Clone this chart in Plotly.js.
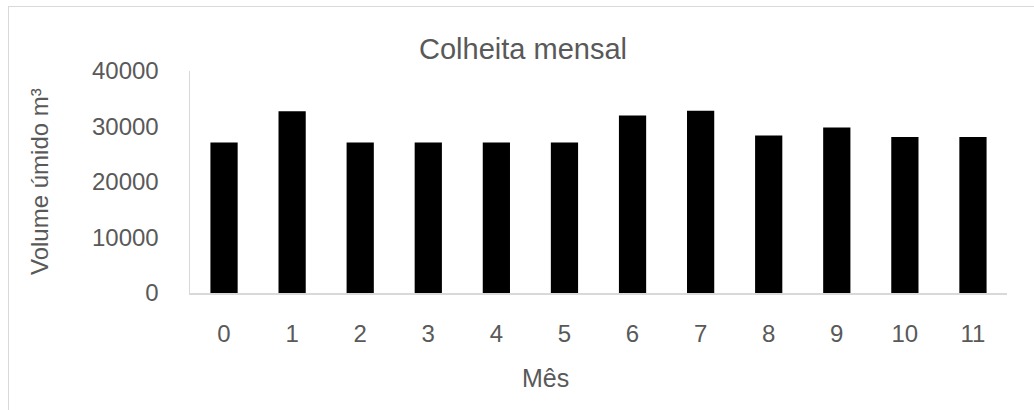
<!DOCTYPE html>
<html>
<head>
<meta charset="utf-8">
<script src="https://cdn.plot.ly/plotly-3.0.1.min.js"></script>
<style>
  html, body { margin: 0; padding: 0; background: #fff; overflow: hidden; }
  #frame { position: absolute; left: 8px; top: 6px; width: 1200px; height: 600px; border: 1px solid #d9d9d9; }
  #chart { position: absolute; left: 0; top: 0; width: 1034px; height: 410px; }
</style>
</head>
<body>
<div id="frame"></div>
<div id="chart"></div>
<script>
const months = [0, 1, 2, 3, 4, 5, 6, 7, 8, 9, 10, 11];
const volume = [27100, 32750, 27100, 27100, 27100, 27100, 32000, 32850, 28400, 29800, 28100, 28100];
const yTicks = [0, 10000, 20000, 30000, 40000];

const FONT = '"Liberation Sans", Arial, sans-serif';
const GRAY = '#595959';

const data = [{
  type: 'bar',
  x: months,
  y: volume,
  marker: { color: '#000000' },
  width: 0.4,
  hoverinfo: 'x+y'
}];

const layout = {
  width: 1034,
  height: 410,
  margin: { l: 190, r: 27, t: 71, b: 117, pad: 0 },
  paper_bgcolor: 'rgba(0,0,0,0)',
  plot_bgcolor: 'rgba(0,0,0,0)',
  showlegend: false,
  font: { family: FONT, color: GRAY },
  title: {
    text: 'Colheita mensal',
    font: { family: FONT, size: 29, color: GRAY },
    xref: 'container', x: 523 / 1034, xanchor: 'center',
    yref: 'container', y: 1 - 49 / 410, yanchor: 'middle'
  },
  xaxis: {
    range: [-0.5, 11.5],
    tickvals: months,
    ticktext: months.map(String),
    showgrid: false,
    zeroline: false,
    showline: true,
    linecolor: '#d9d9d9',
    linewidth: 1.5,
    ticks: '',
    ticklabelstandoff: 19,
    tickfont: { family: FONT, size: 24, color: GRAY },
    fixedrange: true
  },
  yaxis: {
    range: [0, 40000],
    tickvals: yTicks,
    ticktext: yTicks.map(String),
    showgrid: false,
    zeroline: false,
    showline: true,
    linecolor: '#d9d9d9',
    linewidth: 1.5,
    ticks: '',
    ticklabelstandoff: 25,
    tickfont: { family: FONT, size: 24, color: GRAY },
    fixedrange: true
  },
  annotations: [
    {
      text: 'Volume úmido m³',
      xref: 'paper', yref: 'paper',
      x: (39 - 190) / 817, y: 0.5,
      xanchor: 'center', yanchor: 'middle',
      textangle: -90,
      showarrow: false,
      font: { family: FONT, size: 24, color: GRAY }
    },
    {
      text: 'Mês',
      xref: 'paper', yref: 'paper',
      x: (545 - 190) / 817, y: (293 - 378) / 222,
      xanchor: 'center', yanchor: 'middle',
      showarrow: false,
      font: { family: FONT, size: 25, color: GRAY }
    }
  ]
};

Plotly.newPlot('chart', data, layout, { displayModeBar: false, staticPlot: true });
</script>
</body>
</html>
